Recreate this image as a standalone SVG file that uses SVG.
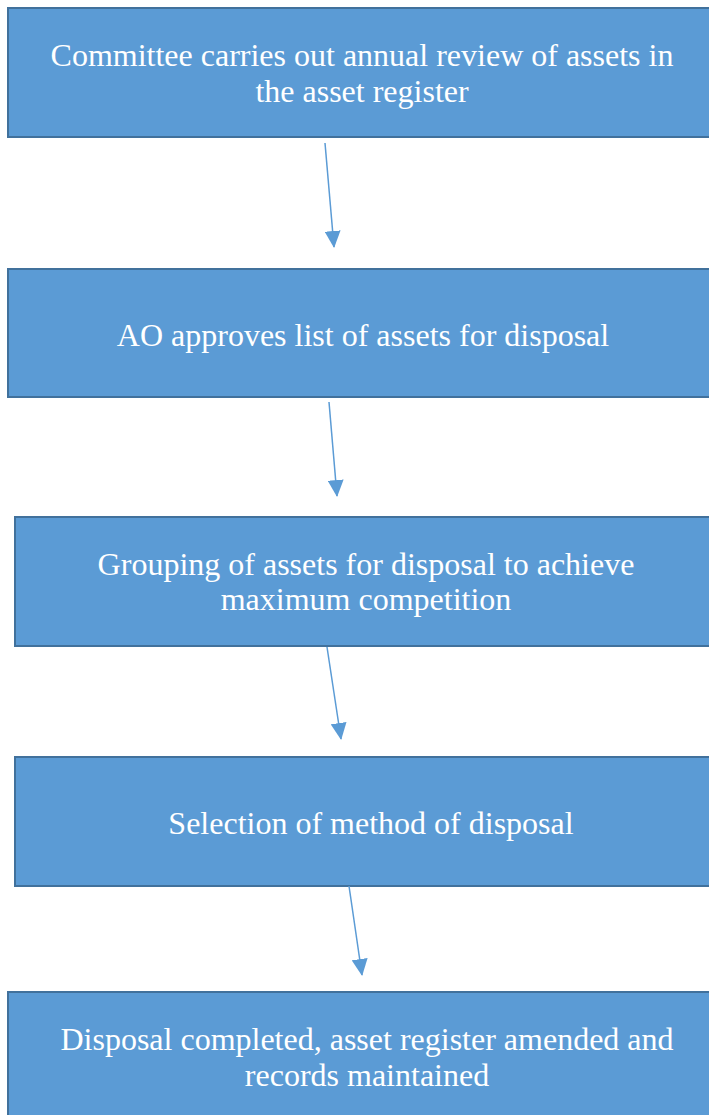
<svg xmlns="http://www.w3.org/2000/svg" width="709" height="1115" viewBox="0 0 709 1115">
<style>
.box{fill:#5b9bd5;stroke:#41719c;stroke-width:2}
.t{font-family:"Liberation Serif","Times New Roman",serif;font-size:32px;fill:#ffffff;text-anchor:middle}
.c{stroke:#5b9bd5;stroke-width:1.5;fill:none}
</style>
<defs>
<marker id="ah" viewBox="0 0 17 16" refX="16" refY="8" markerWidth="17" markerHeight="16" markerUnits="userSpaceOnUse" orient="auto">
<path d="M0,0 L17,8 L0,16 z" fill="#5b9bd5"/>
</marker>
</defs>
<rect width="709" height="1115" fill="#ffffff"/>
<g id="n1"><rect class="box" x="8" y="8" width="710" height="129"/>
<text class="t" x="362" y="66">Committee carries out annual review of assets in</text>
<text class="t" x="362" y="102">the asset register</text></g>
<g id="n2"><rect class="box" x="8" y="269" width="710" height="128"/>
<text class="t" x="363" y="346">AO approves list of assets for disposal</text></g>
<g id="n3"><rect class="box" x="15" y="517" width="710" height="129"/>
<text class="t" x="366" y="575">Grouping of assets for disposal to achieve</text>
<text class="t" x="366" y="610">maximum competition</text></g>
<g id="n4"><rect class="box" x="15" y="757" width="710" height="129"/>
<text class="t" x="371" y="834">Selection of method of disposal</text></g>
<g id="n5"><rect class="box" x="8" y="992" width="710" height="140"/>
<text class="t" x="367" y="1050">Disposal completed, asset register amended and</text>
<text class="t" x="367" y="1086">records maintained</text></g>
<g id="connectors">
<line class="c" x1="325" y1="143" x2="334" y2="247" marker-end="url(#ah)"/>
<line class="c" x1="329" y1="402" x2="337" y2="496" marker-end="url(#ah)"/>
<line class="c" x1="327" y1="647" x2="341" y2="739" marker-end="url(#ah)"/>
<line class="c" x1="349" y1="886" x2="362" y2="975" marker-end="url(#ah)"/>
</g>
</svg>
